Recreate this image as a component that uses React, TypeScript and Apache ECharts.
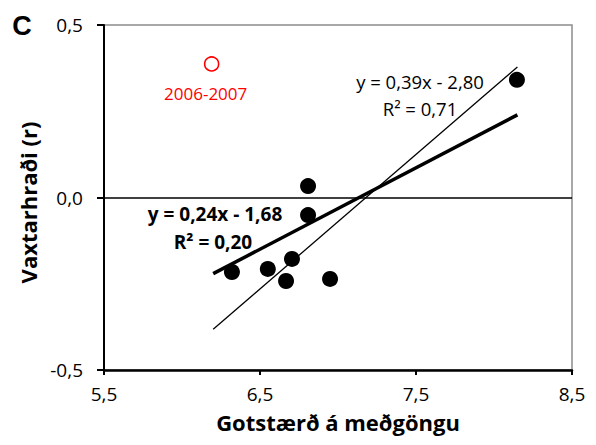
import React, { useEffect, useRef } from "react";
import * as echarts from "echarts";

// Litter size (x) vs growth rate (y), one point per year
const litterSize = [6.32, 6.55, 6.705, 6.667, 6.808, 6.808, 6.949, 8.147];
const growthRate = [-0.216, -0.207, -0.178, -0.242, 0.033, -0.051, -0.236, 0.341];

// The 2006-2007 season, drawn apart as an open red circle
const outlierPoint = [6.19, 0.387];
const outlierLabel = "2006-2007";

// Trend lines: [slope, intercept]
const boldTrend = [0.236, -1.684];
const thinTrend = [0.39, -2.8];
const boldR2 = 0.2;
const thinR2 = 0.71;
const trendRange = [6.2, 8.15];

// Axis ranges and ticks
const xTicks = [5.5, 6.5, 7.5, 8.5];
const yTicks = [-0.5, 0, 0.5];

const xTitle = "Gotstærð á meðgöngu";
const yTitle = "Vaxtarhraði (r)";
const panelLetter = "C";

const FONT = "'Open Sans', sans-serif";

const comma = (v: number, d: number) => v.toFixed(d).replace(".", ",");

const equation = (t: number[]) =>
  `y = ${comma(t[0], 2)}x ${t[1] < 0 ? "-" : "+"} ${comma(Math.abs(t[1]), 2)}`;

const trendData = (t: number[]) =>
  trendRange.map((x) => [x, t[0] * x + t[1]]);

export default function App() {
  const ref = useRef<HTMLDivElement>(null);

  useEffect(() => {
    if (!ref.current) return;
    const chart = echarts.init(ref.current, undefined, { renderer: "svg" });

    const axisLabel = { color: "#000", fontFamily: FONT, fontSize: 19 };
    const centered = { textAlign: "center", textVerticalAlign: "middle", fill: "#000" };

    chart.setOption({
      animation: false,
      backgroundColor: "#fff",
      grid: {
        left: 104,
        top: 25,
        right: 24,
        bottom: 75,
        show: true,
        borderColor: "#8c8c8c",
        borderWidth: 1.5,
        backgroundColor: "transparent",
      },
      xAxis: {
        type: "value",
        min: xTicks[0],
        max: xTicks[xTicks.length - 1],
        interval: xTicks[1] - xTicks[0],
        splitLine: { show: false },
        axisLine: { onZero: false, lineStyle: { color: "#000", width: 2.5 } },
        axisTick: { show: true, length: 5, lineStyle: { color: "#000", width: 2 } },
        axisLabel: { ...axisLabel, margin: 14, formatter: (v: number) => comma(v, 1) },
        name: xTitle,
        nameLocation: "middle",
        nameGap: 41,
        nameTextStyle: { color: "#000", fontFamily: FONT, fontSize: 22, fontWeight: "bold" },
      },
      yAxis: {
        type: "value",
        min: yTicks[0],
        max: yTicks[yTicks.length - 1],
        interval: yTicks[1] - yTicks[0],
        splitLine: { show: false },
        axisLine: { onZero: false, lineStyle: { color: "#000", width: 2 } },
        axisTick: { show: true, length: 7, lineStyle: { color: "#000", width: 2 } },
        axisLabel: { ...axisLabel, margin: 21, formatter: (v: number) => comma(v, 1) },
        name: yTitle,
        nameLocation: "middle",
        nameGap: 64,
        nameTextStyle: {
          color: "#000",
          fontFamily: FONT,
          fontSize: 22,
          fontWeight: "bold",
          padding: [0, 10, 0, 0],
        },
      },
      series: [
        {
          name: "zero",
          type: "line",
          data: [],
          silent: true,
          markLine: {
            symbol: "none",
            silent: true,
            label: { show: false },
            lineStyle: { color: "#000", width: 1.5, type: "solid" },
            data: [{ yAxis: 0 }],
          },
        },
        {
          name: "thin trend",
          type: "line",
          data: trendData(thinTrend),
          symbol: "none",
          lineStyle: { color: "#000", width: 1.3 },
          z: 3,
        },
        {
          name: "bold trend",
          type: "line",
          data: trendData(boldTrend),
          symbol: "none",
          lineStyle: { color: "#000", width: 3.5 },
          z: 3,
        },
        {
          name: "years",
          type: "scatter",
          data: litterSize.map((x, i) => [x, growthRate[i]]),
          symbol: "circle",
          symbolSize: 16,
          itemStyle: { color: "#000", opacity: 1 },
          z: 5,
        },
        {
          name: outlierLabel,
          type: "scatter",
          data: [outlierPoint],
          symbol: "circle",
          symbolSize: 14,
          itemStyle: { color: "#fff", borderColor: "#ff0000", borderWidth: 1.6, opacity: 1 },
          label: {
            show: true,
            position: "bottom",
            distance: 13,
            offset: [-6, 0],
            formatter: outlierLabel,
            color: "#ff0000",
            fontFamily: FONT,
            fontSize: 17,
          },
          z: 5,
        },
      ],
      graphic: [
        {
          type: "text",
          x: 22,
          y: 26,
          style: { ...centered, text: panelLetter, font: "bold 27px Arial, 'Liberation Sans', sans-serif" },
        },
        {
          type: "text",
          x: 420,
          y: 81,
          style: { ...centered, text: equation(thinTrend), font: `18.5px ${FONT}` },
        },
        {
          type: "text",
          x: 420,
          y: 108,
          style: { ...centered, text: `R² = ${comma(thinR2, 2)}`, font: `18.5px ${FONT}` },
        },
        {
          type: "text",
          x: 215,
          y: 214,
          style: { ...centered, text: equation(boldTrend), font: `bold 19px ${FONT}` },
        },
        {
          type: "text",
          x: 213,
          y: 242,
          style: { ...centered, text: `R² = ${comma(boldR2, 2)}`, font: `bold 19px ${FONT}` },
        },
      ],
    });

    return () => chart.dispose();
  }, []);

  return <div ref={ref} style={{ width: 596, height: 445, margin: -8 }} />;
}
